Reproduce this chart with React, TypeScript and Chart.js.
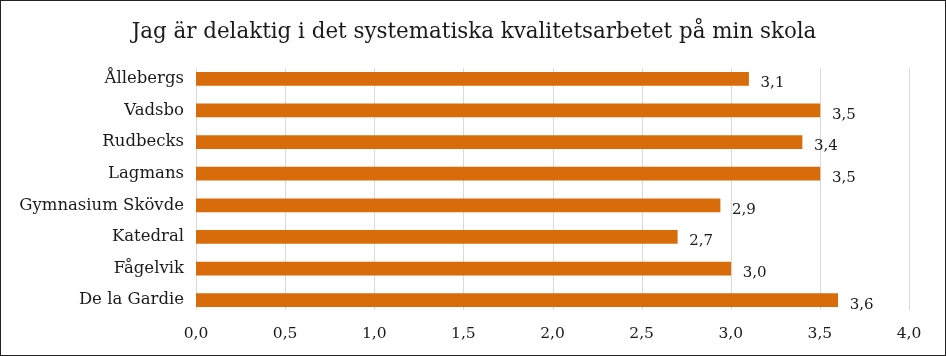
import React, { useEffect, useRef } from "react";
import { Chart, registerables } from "chart.js";

Chart.register(...registerables);

const TITLE = "Jag är delaktig i det systematiska kvalitetsarbetet på min skola";
const schools = [
  "Ållebergs",
  "Vadsbo",
  "Rudbecks",
  "Lagmans",
  "Gymnasium Skövde",
  "Katedral",
  "Fågelvik",
  "De la Gardie",
];
const scores = [3.1, 3.5, 3.4, 3.5, 2.94, 2.7, 3.0, 3.6];
const xMin = 0;
const xMax = 4;
const xStep = 0.5;

const FONT = "'DejaVu Serif', 'Liberation Serif', serif";
const BAR_COLOR = "#D86C0A";
const TEXT_COLOR = "#1a1a1a";
const GRID_COLOR = "#d9d9d9";

const fmt = (v: number) => v.toFixed(1).replace(".", ",");

const titlePlugin = {
  id: "centeredTitle",
  afterDraw(chart: any) {
    const ctx = chart.ctx;
    ctx.save();
    ctx.font = `21.4px ${FONT}`;
    ctx.fillStyle = TEXT_COLOR;
    ctx.textAlign = "center";
    ctx.textBaseline = "middle";
    ctx.fillText(TITLE, chart.width / 2 + 1, 31);
    ctx.restore();
  },
};

const gridPlugin = {
  id: "shortGrid",
  beforeDatasetsDraw(chart: any) {
    const ctx = chart.ctx;
    const xs = chart.scales.x;
    const { top, bottom } = chart.chartArea;
    ctx.save();
    ctx.strokeStyle = GRID_COLOR;
    ctx.lineWidth = 1;
    xs.ticks.forEach((t: any) => {
      const x = Math.round(xs.getPixelForValue(t.value)) + 0.5;
      ctx.beginPath();
      ctx.moveTo(x, top + 5);
      ctx.lineTo(x, bottom - 6);
      ctx.stroke();
    });
    ctx.restore();
  },
};

const labelPlugin = {
  id: "barValueLabels",
  afterDatasetsDraw(chart: any) {
    const ctx = chart.ctx;
    const meta = chart.getDatasetMeta(0);
    ctx.save();
    ctx.font = `15px ${FONT}`;
    ctx.fillStyle = TEXT_COLOR;
    ctx.textAlign = "left";
    ctx.textBaseline = "middle";
    meta.data.forEach((el: any, i: number) => {
      const v = chart.data.datasets[0].data[i] as number;
      ctx.fillText(fmt(v), el.x + 12, el.y + 4.5);
    });
    ctx.restore();
  },
};

export default function App() {
  const ref = useRef<HTMLCanvasElement | null>(null);
  useEffect(() => {
    if (!ref.current) return;
    const chart = new Chart(ref.current, {
      type: "bar",
      data: {
        labels: schools,
        datasets: [
          {
            data: scores,
            backgroundColor: BAR_COLOR,
            barThickness: 13,
          },
        ],
      },
      options: {
        indexAxis: "y",
        animation: false,
        responsive: false,
        maintainAspectRatio: false,
        layout: { padding: { top: 62, right: 36, bottom: 0, left: 0 } },
        plugins: {
          legend: { display: false },
          tooltip: { enabled: false },
          title: { display: false },
        },
        scales: {
          x: {
            min: xMin,
            max: xMax,
            ticks: {
              stepSize: xStep,
              color: TEXT_COLOR,
              font: { family: FONT, size: 15.5 },
              padding: 9,
              callback: (v: any) => fmt(Number(v)),
            },
            grid: { display: false, drawTicks: false },
            border: { display: false },
            afterFit: (s: any) => {
              s.height = 39;
            },
          },
          y: {
            ticks: {
              color: TEXT_COLOR,
              font: { family: FONT, size: 16.5 },
              padding: 12,
            },
            grid: { display: false, drawTicks: false },
            border: { display: false },
            afterFit: (s: any) => {
              s.width = 195;
            },
          },
        },
      },
      plugins: [gridPlugin, labelPlugin, titlePlugin],
    });
    return () => chart.destroy();
  }, []);
  return (
    <div
      style={{
        position: "fixed",
        left: 0,
        top: 0,
        width: 946,
        height: 356,
        border: "1px solid #222",
        boxSizing: "border-box",
        background: "#fff",
      }}
    >
      <canvas ref={ref} width={944} height={354} style={{ display: "block" }} />
    </div>
  );
}
